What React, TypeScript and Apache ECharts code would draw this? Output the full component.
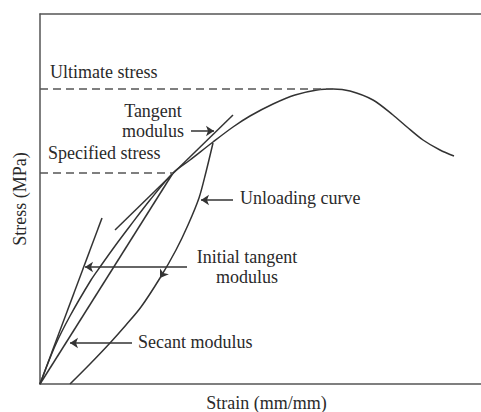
import React, { useEffect, useRef } from "react";
import * as echarts from "echarts";

// Data in chart units (x: strain, y: stress)
const stressStrainCurve: [number, number][] = [
  [0, 0], [15, 38], [30, 68], [51, 104], [60, 117], [75, 138], [90, 158],
  [110, 184], [133, 211], [150, 224], [173, 242], [193, 257], [210, 268],
  [233, 280], [255, 289], [277, 294], [293, 295], [310, 293], [333, 284],
  [353, 269], [367, 257], [383, 244], [400, 234], [414, 228],
];
const unloadingCurve: [number, number][] = [
  [173, 241], [166, 212], [159, 186], [148, 159], [136, 134], [120, 106],
  [101, 77], [86, 59], [70, 41], [50, 20], [30, 0],
];
const initialTangent: [number, number][] = [[0, 0], [62, 166]];
const secantLine: [number, number][] = [[0, 0], [133, 211]];
const tangentLine: [number, number][] = [[75, 154], [193, 269]];
const ultimateStress: [number, number][] = [[0, 295], [293, 295]];
const specifiedStress: [number, number][] = [[0, 211], [133, 211]];
const unloadingArrowHead: [number, number][] = [[124, 112], [120, 106]];
const pointerArrows: [number, number][][] = [
  [[151, 253], [174, 253]],
  [[193, 184], [161, 184]],
  [[147, 117], [45, 117]],
  [[92, 41], [30, 41]],
];

const FONT = "'Liberation Serif', 'Times New Roman', serif";
const INK = "#2a2a2a";

export default function App() {
  const ref = useRef<HTMLDivElement>(null);
  useEffect(() => {
    if (!ref.current) return;
    const chart = echarts.init(ref.current, undefined, { renderer: "svg" });
    const lineStyle = { color: "#333", width: 1.5 };
    const solid = (data: [number, number][], smooth: number | boolean = false) => ({
      type: "line",
      data,
      showSymbol: false,
      symbol: "none",
      smooth,
      lineStyle,
      silent: true,
    });
    const dashed = (data: [number, number][]) => ({
      type: "line",
      data,
      showSymbol: false,
      symbol: "none",
      lineStyle: { color: "#555", width: 1.5, type: [8, 5] },
      silent: true,
    });
    const txt = (text: string, x: number, y: number, align = "left") => ({
      type: "text",
      x,
      y,
      silent: true,
      style: {
        text,
        font: `18px ${FONT}`,
        fill: INK,
        align,
        verticalAlign: "middle",
      },
    });
    const hiddenParts = {
      axisTick: { show: false },
      axisLabel: { show: false },
      splitLine: { show: false },
    };
    chart.setOption({
      animation: false,
      backgroundColor: "#ffffff",
      grid: {
        left: 40,
        top: 14,
        right: 0,
        bottom: 28,
        outerBoundsMode: "none",
        containLabel: false,
        show: false,
      },
      xAxis: [
        {
          type: "value",
          min: 0,
          max: 453,
          position: "bottom",
          name: "Strain (mm/mm)",
          nameLocation: "middle",
          nameGap: 10,
          nameTextStyle: { fontFamily: FONT, fontSize: 18, color: INK, verticalAlign: "top" },
          axisLine: { show: true, onZero: false, lineStyle: { color: "#555", width: 1.5 } },
          ...hiddenParts,
        },
        {
          type: "value",
          min: 0,
          max: 453,
          position: "top",
          axisLine: { show: true, onZero: false, lineStyle: { color: "#555", width: 1.5 } },
          ...hiddenParts,
        },
      ],
      yAxis: {
        type: "value",
        min: 0,
        max: 370,
        name: "Stress (MPa)",
        nameLocation: "middle",
        nameGap: 11,
        nameTextStyle: { fontFamily: FONT, fontSize: 18, color: INK },
        axisLine: { show: true, onZero: false, lineStyle: { color: "#555", width: 1.5 } },
        ...hiddenParts,
      },
      series: [
        solid(stressStrainCurve, 0.3),
        solid(unloadingCurve, 0.3),
        solid(initialTangent),
        solid(secantLine),
        solid(tangentLine),
        dashed(ultimateStress),
        dashed(specifiedStress),
        {
          type: "lines",
          coordinateSystem: "cartesian2d",
          symbol: ["none", "arrow"],
          symbolSize: 8,
          lineStyle: { color: "#333", width: 1.5, opacity: 1 },
          silent: true,
          data: pointerArrows.map((c) => ({ coords: c })),
        },
        {
          type: "lines",
          coordinateSystem: "cartesian2d",
          symbol: ["none", "arrow"],
          symbolSize: 8,
          lineStyle: { color: "#333", width: 0, opacity: 1 },
          silent: true,
          data: [{ coords: unloadingArrowHead }],
        },
      ],
      graphic: [
        txt("Ultimate stress", 50, 72),
        txt("Tangent", 153, 111, "center"),
        txt("modulus", 153, 131, "center"),
        txt("Specified stress", 48, 153),
        txt("Unloading curve", 240, 198),
        txt("Initial tangent", 247, 257, "center"),
        txt("modulus", 247, 277, "center"),
        txt("Secant modulus", 138, 342),
      ],
    });
    return () => chart.dispose();
  }, []);
  return (
    <div
      ref={ref}
      style={{ width: 493, height: 412, position: "fixed", left: 0, top: 0, background: "#fff" }}
    />
  );
}
